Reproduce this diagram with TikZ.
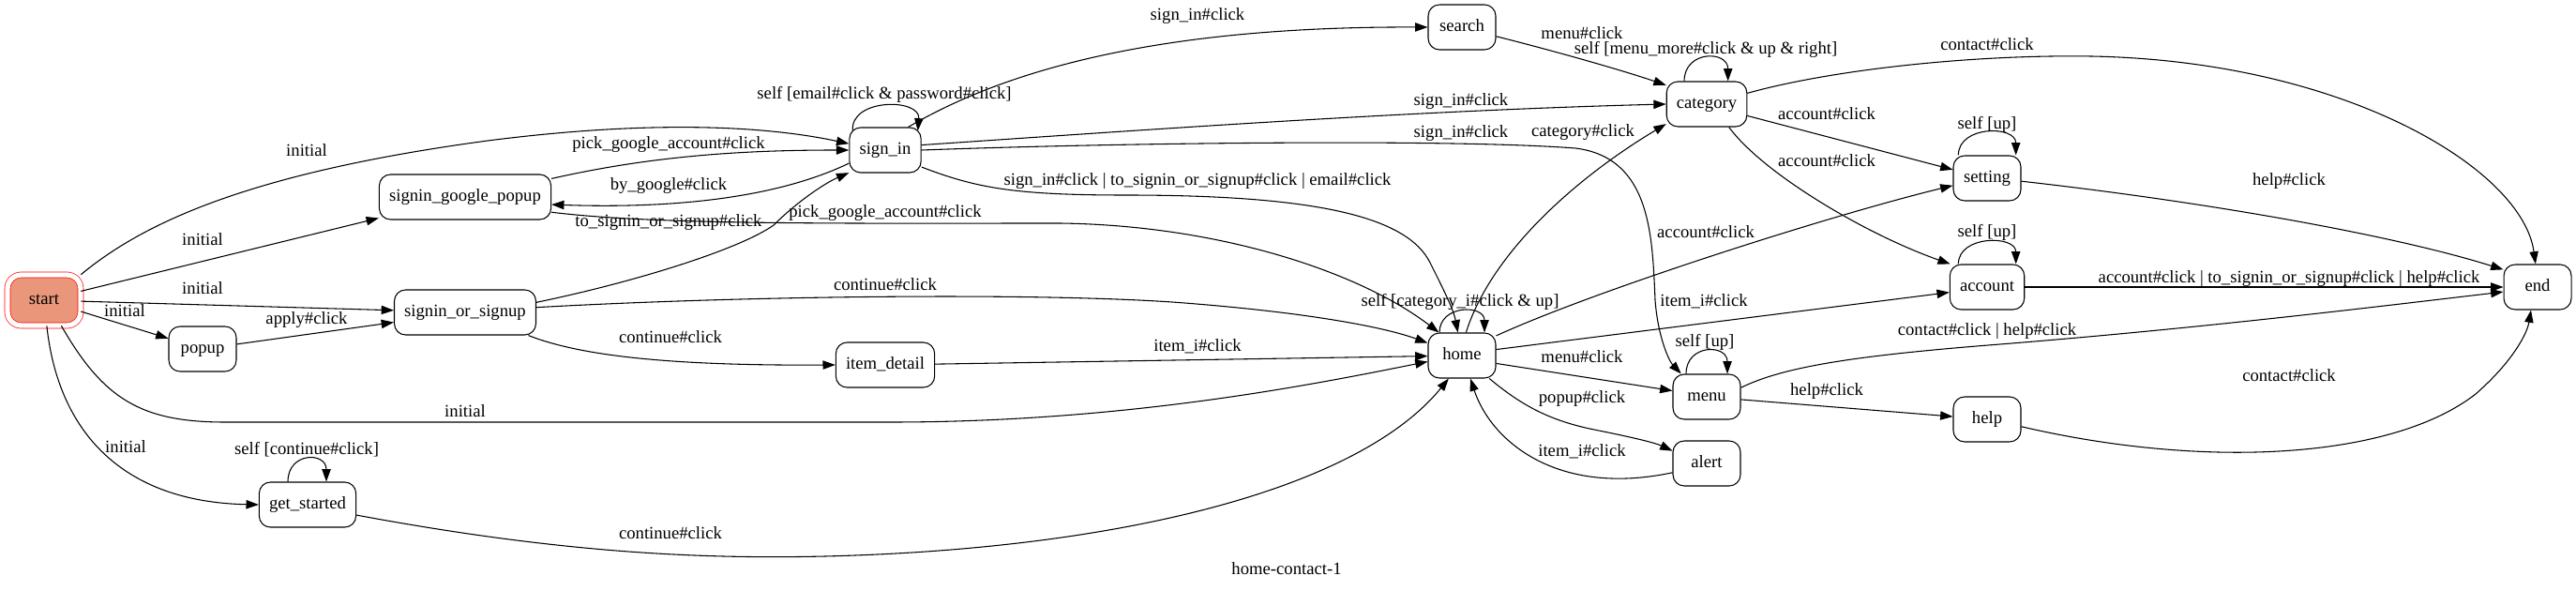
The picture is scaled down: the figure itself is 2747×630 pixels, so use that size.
\documentclass[tikz,border=0pt]{standalone}
\usepackage{fontspec}
\setmainfont{Liberation Serif}
\usetikzlibrary{arrows.meta}
\definecolor{startfill}{HTML}{E9967A}

\begin{document}
\begin{tikzpicture}[x=0.75pt,y=-0.75pt,
    font=\fontsize{14}{16}\selectfont,
    state/.style={draw,line width=0.8pt,rounded corners=9pt,minimum width=54pt,minimum height=36pt,inner xsep=8pt,inner ysep=0pt,text height=9.5pt,text depth=3pt},
    lbl/.style={inner sep=0pt,text height=9.5pt,text depth=3pt},
    edge/.style={line width=0.8pt,-{Triangle[length=10pt,width=7pt]}}]
  \useasboundingbox (0,0) rectangle (2747,630);

  % states
  \node[state,fill=startfill,draw=red,line width=0.5pt,double=white,double distance=4pt,minimum width=58.5pt,minimum height=40.5pt,rounded corners=11pt] (start) at (47,320) {start};
  \node[state] (gpopup) at (496,210) {signin\_google\_popup};
  \node[state] (sos) at (496,333) {signin\_or\_signup};
  \node[state] (popup) at (216,372) {popup};
  \node[state] (getstarted) at (328,538) {get\_started};
  \node[state] (signin) at (944,160) {sign\_in};
  \node[state] (itemdetail) at (944,389) {item\_detail};
  \node[state] (search) at (1559,29) {search};
  \node[state] (category) at (1820,111) {category};
  \node[state] (home) at (1559,379) {home};
  \node[state] (menu) at (1820,423) {menu};
  \node[state] (alert) at (1820,494) {alert};
  \node[state] (setting) at (2119,190) {setting};
  \node[state] (account) at (2119,306) {account};
  \node[state] (help) at (2119,447) {help};
  \node[state] (final) at (2706,306) {end};

  % from start
  \draw[edge] (start.north east) .. controls (150,240) and (260,185) .. (520,150) .. controls (700,127) and (820,135) .. (signin.170);
  \draw[edge] (start) -- (gpopup);
  \draw[edge] (start) -- (sos);
  \draw[edge] (start) -- (popup);
  \draw[edge] (popup) -- (sos);
  \draw[edge] (start.-56) .. controls (110,425) and (150,450) .. (240,450) -- (950,450) .. controls (1200,450) and (1400,410) .. (home.190);
  \draw[edge] (start.-84) .. controls (62,460) and (130,535) .. (getstarted.west);
  \draw[edge] ([xshift=-15.75pt]getstarted.north) .. controls +(0,-32) and +(0,-32) .. ([xshift=15pt]getstarted.north);
  \draw[edge] (getstarted.-12) .. controls (600,590) and (750,596) .. (880,593) .. controls (1200,585) and (1450,520) .. (home.240);

  % google popup / signin_or_signup
  \draw[edge] (gpopup.12) .. controls (700,165) and (800,160) .. (signin.west);
  \draw[edge] (signin.200) .. controls (820,215) and (700,222) .. (gpopup.-5);
  \draw[edge] (gpopup.-10) .. controls (700,240) and (900,238) .. (1130,238) .. controls (1300,240) and (1450,290) .. (home.135);
  \draw[edge] (sos.8) .. controls (680,300) and (790,265) .. (825,240) .. controls (850,215) and (880,195) .. (signin.212);
  \draw[edge] (sos.4) .. controls (800,315) and (1100,312) .. (1250,322) .. controls (1400,333) and (1480,350) .. (home.160);
  \draw[edge] (sos.-20) .. controls (620,380) and (720,390) .. (itemdetail.west);
  \draw[edge] (itemdetail) -- (home);

  % sign_in
  \draw[edge] ([shift={(4,4)}]signin.north west) .. controls +(-3,-35) and +(3,-35) .. ([shift={(-4,4)}]signin.north east);
  \draw[edge] (signin.45) .. controls (1080,70) and (1250,28) .. (search.west);
  \draw[edge] (signin.8) .. controls (1200,140) and (1500,118) .. (category.west);
  \draw[edge] (signin.east) .. controls (1200,152) and (1550,148) .. (1680,158) .. controls (1760,168) and (1762,250) .. (1765,320) .. controls (1768,360) and (1780,385) .. (menu.138);
  \draw[edge] (signin.-25) .. controls (1040,200) and (1080,208) .. (1200,208) .. controls (1400,208) and (1500,230) .. (1525,280) .. controls (1540,310) and (1550,330) .. (home.100);

  % search, category
  \draw[edge] (search.-15) .. controls (1660,55) and (1730,75) .. (category.155);
  \draw[edge] ([xshift=-18pt]category.north) .. controls +(0,-33) and +(0,-33) .. ([xshift=17pt]category.north);
  \draw[edge] (category.15) .. controls (1950,75) and (2100,58) .. (2230,60) .. controls (2500,65) and (2690,180) .. (final.95);
  \draw[edge] (category.-16) -- (setting.166);
  \draw[edge] (category.-46) .. controls (1880,185) and (1990,250) .. (account.148);

  % home
  \draw[edge] ([xshift=-18pt]home.north) .. controls +(0,-30) and +(0,-30) .. ([xshift=18pt]home.north);
  \draw[edge] (home.80) .. controls (1590,270) and (1680,190) .. (category.206);
  \draw[edge] (home.30) .. controls (1700,310) and (1950,230) .. (setting.192);
  \draw[edge] (home.10) -- (account.188);
  \draw[edge] (home.-13) -- (menu.170);
  \draw[edge] (home.-40) .. controls (1620,430) and (1650,448) .. (1700,458) .. controls (1740,466) and (1765,472) .. (alert.160);
  \draw[edge] (alert.195) .. controls (1660,530) and (1590,470) .. (home.-70);

  % menu
  \draw[edge] ([xshift=-16.5pt]menu.north) .. controls +(0,-32) and +(0,-32) .. ([xshift=16.5pt]menu.north);
  \draw[edge] (menu.15) .. controls (1900,392) and (1970,380) .. (2120,368) .. controls (2350,350) and (2550,325) .. (final.188);
  \draw[edge] (menu) -- (help);

  % setting, account, help
  \draw[edge] ([xshift=-23pt]setting.north) .. controls +(0,-32) and +(0,-32) .. ([xshift=23pt]setting.north);
  \draw[edge] (setting.-5) .. controls (2350,215) and (2550,250) .. (final.153);
  \draw[edge] ([xshift=-23pt]account.north) .. controls +(0,-31) and +(0,-31) .. ([xshift=23pt]account.north);
  \draw[edge] (account) -- (final);
  \draw[edge] (help.-12) .. controls (2350,500) and (2550,490) .. (2640,420) .. controls (2680,385) and (2695,355) .. (final.-106);

  % labels
  \node[lbl] (l1) at (327,162) {initial};
  \node[lbl] (l2) at (216,257) {initial};
  \node[lbl] (l3) at (216,309) {initial};
  \node[lbl] (l4) at (133,333) {initial};
  \node[lbl] (l5) at (327,341) {apply\#click};
  \node[lbl] (l6) at (496,440) {initial};
  \node[lbl] (l7) at (134,478) {initial};
  \node[lbl] (l8) at (327,480) {self [continue\#click]};
  \node[lbl] (l9) at (715,570) {continue\#click};
  \node[lbl] (l10) at (713,154) {pick\_google\_account\#click};
  \node[lbl] (l11) at (713,198) {by\_google\#click};
  \node[lbl] (l12) at (713,237) {to\_signin\_or\_signup\#click};
  \node[lbl] (l13) at (944,227) {pick\_google\_account\#click};
  \node[lbl] (l14) at (944,305) {continue\#click};
  \node[lbl] (l15) at (715,361) {continue\#click};
  \node[lbl] (l16) at (1277,370) {item\_i\#click};
  \node[lbl] (l17) at (943,101) {self [email\#click \& password\#click]};
  \node[lbl] (l18) at (1277,17) {sign\_in\#click};
  \node[lbl] (l19) at (1558,108) {sign\_in\#click};
  \node[lbl] (l20) at (1558,142) {sign\_in\#click};
  \node[lbl] (l21) at (1277,193) {sign\_in\#click | to\_signin\_or\_signup\#click | email\#click};
  \node[lbl] (l22) at (1687,37) {menu\#click};
  \node[lbl] (l23) at (1819,53) {self [menu\_more\#click \& up \& right]};
  \node[lbl] (l24) at (2119,49) {contact\#click};
  \node[lbl] (l25) at (1948,123) {account\#click};
  \node[lbl] (l26) at (1948,173) {account\#click};
  \node[lbl] (l27) at (1688,141) {category\#click};
  \node[lbl] (l28) at (1819,249) {account\#click};
  \node[lbl] (l29) at (1557,322) {self [category\_i\#click \& up]};
  \node[lbl] (l30) at (1817,322) {item\_i\#click};
  \node[lbl] (l31) at (1687,382) {menu\#click};
  \node[lbl] (l32) at (1687,425) {popup\#click};
  \node[lbl] (l33) at (1687,482) {item\_i\#click};
  \node[lbl] (l34) at (1818,365) {self [up]};
  \node[lbl] (l35) at (2119,353) {contact\#click | help\#click};
  \node[lbl] (l36) at (1948,417) {help\#click};
  \node[lbl] (l37) at (2119,133) {self [up]};
  \node[lbl] (l38) at (2441,193) {help\#click};
  \node[lbl] (l39) at (2119,248) {self [up]};
  \node[lbl] (l40) at (2441,297) {account\#click | to\_signin\_or\_signup\#click | help\#click};
  \node[lbl] (l41) at (2441,402) {contact\#click};
  \node[lbl] (caption) at (1372,608) {home-contact-1};
\end{tikzpicture}
\end{document}
